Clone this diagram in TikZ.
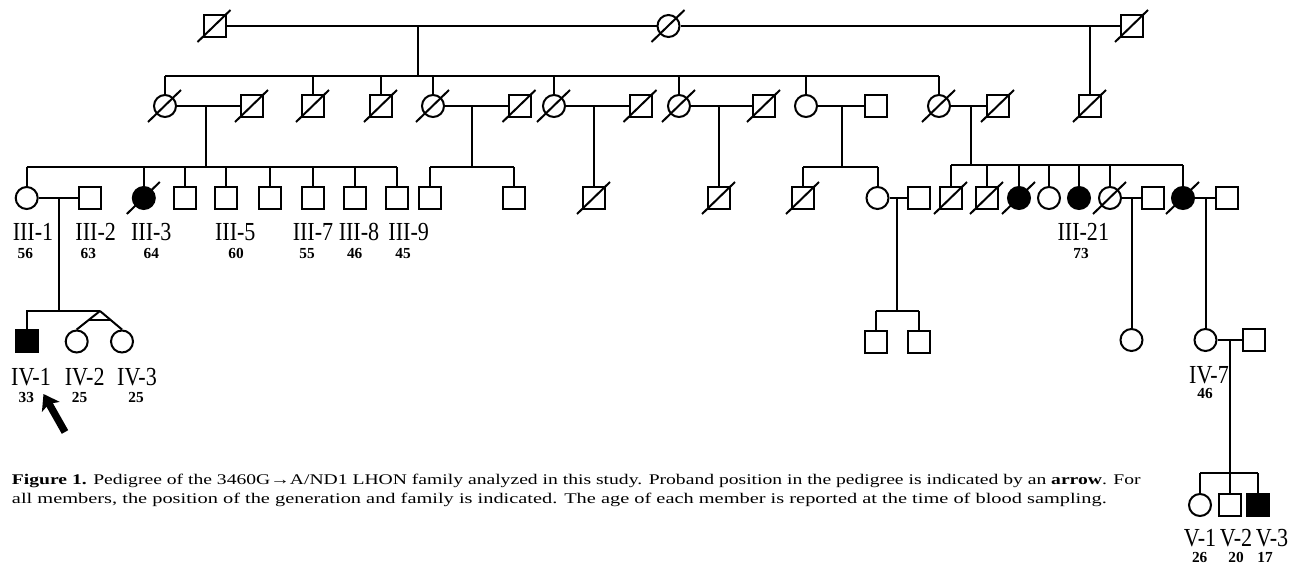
\documentclass[tikz,border=0pt]{standalone}
\usepackage{fontspec}
\setmainfont{Liberation Serif}
\usepackage{graphicx}
\usetikzlibrary{arrows.meta,calc}
% slightly condensed individual identifiers
\newcommand\idlab[1]{\scalebox{0.85}[1]{#1}}
% slash through a deceased individual
\newcommand\deadmark[1]{\draw ([shift={(-17,16)}]#1.center) -- ([shift={(16,-16)}]#1.center);}
\begin{document}
\begin{tikzpicture}[x=0.75pt,y=-0.75pt,line width=1.5pt,
  sq/.style={draw,rectangle,minimum size=16.5pt,inner sep=0pt,fill=white},
  ci/.style={draw,circle,minimum size=16.5pt,inner sep=0pt,fill=white},
  aff/.style={fill=black},
  idtext/.style={font=\fontsize{19.5}{20}\selectfont,inner sep=0pt,anchor=base},
  agetext/.style={font=\fontsize{11.5}{12}\selectfont\bfseries,inner sep=0pt,anchor=base},
  captext/.style={inner sep=0pt,anchor=base west}]
\useasboundingbox (0,0) rectangle (1303,565);

% ---------- generation I ----------
\node[sq] (i1) at (214.5,26) {};
\node[ci] (i2) at (668.5,26) {};
\node[sq] (i3) at (1132,26) {};
\draw (i1) -- (i2);
\draw (i2) -- (i3);
\coordinate (m12) at (418,26);
\coordinate (s2) at (418,76);
\coordinate (m23) at (1090,26);
\draw (m12) -- (s2);

% ---------- generation II ----------
\node[ci] (a1) at (165,106) {};
\node[sq] (a2) at (252,106) {};
\node[sq] (b)  at (313,106) {};
\node[sq] (c)  at (381,106) {};
\node[ci] (d1) at (433,106) {};
\node[sq] (d2) at (519.5,106) {};
\node[ci] (e1) at (554,106) {};
\node[sq] (e2) at (640.5,106) {};
\node[ci] (f1) at (679,106) {};
\node[sq] (f2) at (764,106) {};
\node[ci] (g1) at (806,106) {};
\node[sq] (g2) at (876,106) {};
\node[ci] (h1) at (939,106) {};
\node[sq] (h2) at (998,106) {};
\node[sq] (k)  at (1090,106) {};
\draw (m23) -- (k);
\draw (a1.north |- s2) -- (h1.north |- s2);
\foreach \n in {a1,b,c,d1,e1,f1,g1,h1} {\draw (\n.north) -- (\n.north |- s2);}
\foreach \p/\q in {a1/a2,d1/d2,e1/e2,f1/f2,g1/g2,h1/h2} {\draw (\p) -- (\q);}
\coordinate (ma) at (206,106);   \coordinate (sa) at (206,167);
\coordinate (md) at (472,106);   \coordinate (sd) at (472,167);
\coordinate (me) at (594,106);
\coordinate (mf) at (719,106);
\coordinate (mg) at (841.5,106); \coordinate (sg) at (841.5,167);
\coordinate (mh) at (971,106);   \coordinate (sh) at (971,165);
\draw (ma) -- (sa);
\draw (md) -- (sd);
\draw (mg) -- (sg);
\draw (mh) -- (sh);

% ---------- generation III ----------
\node[ci] (iii1) at (26.7,198) {};
\node[sq] (iii2) at (90,198) {};
\node[ci,aff] (iii3) at (143.8,198) {};
\node[sq] (iii4) at (185,198) {};
\node[sq] (iii5) at (226,198) {};
\node[sq] (iii6) at (270,198) {};
\node[sq] (iii7) at (312.5,198) {};
\node[sq] (iii8) at (354.5,198) {};
\node[sq] (iii9) at (397,198) {};
\draw (iii1.north |- sa) -- (iii9.north |- sa);
\foreach \n in {iii1,iii3,iii4,iii5,iii6,iii7,iii8,iii9} {\draw (\n.north) -- (\n.north |- sa);}
\draw (iii1) -- (iii2);
\coordinate (m31) at (59,198); \coordinate (s41) at (59,311);
\draw (m31) -- (s41);

\node[sq] (d3) at (430,198) {};
\node[sq] (d4) at (513.5,198) {};
\draw (d3.north |- sd) -- (d4.north |- sd);
\foreach \n in {d3,d4} {\draw (\n.north) -- (\n.north |- sd);}

\node[sq] (e3) at (594,198) {};
\draw (me) -- (e3);
\node[sq] (f3) at (719,198) {};
\draw (mf) -- (f3);

\node[sq] (g3) at (803,198) {};
\node[ci] (g4) at (877.5,198) {};
\node[sq] (g5) at (918.5,198) {};
\draw (g3.north |- sg) -- (g4.north |- sg);
\foreach \n in {g3,g4} {\draw (\n.north) -- (\n.north |- sg);}
\draw (g4) -- (g5);
\coordinate (m3g) at (897,198); \coordinate (s4g) at (897,311);
\draw (m3g) -- (s4g);

\node[sq] (h3) at (951,198) {};
\node[sq] (h4) at (987,198) {};
\node[ci,aff] (h5) at (1019,198) {};
\node[ci] (h6) at (1049,198) {};
\node[ci,aff] (h7) at (1079,198) {};
\node[ci] (h8) at (1110,198) {};
\node[sq] (h8s) at (1153,198) {};
\node[ci,aff] (h9) at (1183,198) {};
\node[sq] (h9s) at (1226.5,198) {};
\draw (h3.north |- sh) -- (h9.north |- sh);
\foreach \n in {h3,h4,h5,h6,h7,h8,h9} {\draw (\n.north) -- (\n.north |- sh);}
\draw (h8) -- (h8s);
\draw (h9) -- (h9s);
\coordinate (m3h8) at (1131.5,198);
\coordinate (m3h9) at (1205.5,198);

% ---------- generation IV ----------
\node[sq,aff] (iv1) at (26.7,341) {};
\node[ci] (iv2) at (76.7,341.5) {};
\node[ci] (iv3) at (122,341.5) {};
\coordinate (tw) at (100,311);
\draw (iv1.north) -- (iv1.north |- s41) -- (tw);
\draw (tw) -- (iv2.north);
\draw (tw) -- (iv3.north);
\draw ($(tw)!0.49!(iv2.north)$) -- ($(tw)!0.49!(iv3.north)$);

\node[sq] (g6) at (875.5,342) {};
\node[sq] (g7) at (919,342) {};
\draw (g6.north |- s4g) -- (g7.north |- s4g);
\foreach \n in {g6,g7} {\draw (\n.north) -- (\n.north |- s4g);}

\node[ci] (ivh) at (1131.5,340) {};
\draw (m3h8) -- (ivh);
\node[ci] (iv7) at (1205.5,340) {};
\node[sq] (iv7s) at (1254,340) {};
\draw (m3h9) -- (iv7);
\draw (iv7) -- (iv7s);
\coordinate (m47) at (1230,340); \coordinate (s5) at (1230,473);

% ---------- generation V ----------
\node[ci] (v1) at (1200,505) {};
\node[sq] (v2) at (1230,505) {};
\node[sq,aff] (v3) at (1258.3,505) {};
\draw (m47) -- (v2);
\draw (v1.north |- s5) -- (v3.north |- s5);
\foreach \n in {v1,v3} {\draw (\n.north) -- (\n.north |- s5);}

% ---------- deceased ----------
\foreach \n in {i1,i2,i3,a1,a2,b,c,d1,d2,e1,e2,f1,f2,h1,h2,k,iii3,e3,f3,g3,h3,h4,h5,h8,h9} {\deadmark{\n}}

% ---------- identifiers and ages ----------
\node[idtext] (l-iii1) at (33,240) {\idlab{III-1}};
\node[idtext] (l-iii2) at (95.7,240) {\idlab{III-2}};
\node[idtext] (l-iii3) at (151.3,240) {\idlab{III-3}};
\node[idtext] (l-iii5) at (235.3,240) {\idlab{III-5}};
\node[idtext] (l-iii7) at (313,240) {\idlab{III-7}};
\node[idtext] (l-iii8) at (359,240) {\idlab{III-8}};
\node[idtext] (l-iii9) at (408.7,240) {\idlab{III-9}};
\node[idtext] (l-iii21) at (1083.3,240) {\idlab{III-21}};
\node[agetext] (a-iii1) at (25.3,258.5) {56};
\node[agetext] (a-iii2) at (88.3,258.5) {63};
\node[agetext] (a-iii3) at (151.3,258.5) {64};
\node[agetext] (a-iii5) at (236,258.5) {60};
\node[agetext] (a-iii7) at (307,258.5) {55};
\node[agetext] (a-iii8) at (354.7,258.5) {46};
\node[agetext] (a-iii9) at (403,258.5) {45};
\node[agetext] (a-iii21) at (1081,258.5) {73};

\node[idtext] (l-iv1) at (31,385) {\idlab{IV-1}};
\node[idtext] (l-iv2) at (84.7,385) {\idlab{IV-2}};
\node[idtext] (l-iv3) at (137,385) {\idlab{IV-3}};
\node[agetext] (a-iv1) at (26.3,402) {33};
\node[agetext] (a-iv2) at (79.5,402) {25};
\node[agetext] (a-iv3) at (136,402) {25};
\node[idtext] (l-iv7) at (1209,383) {\idlab{IV-7}};
\node[agetext] (a-iv7) at (1205,398.5) {46};

\node[idtext] (l-v1) at (1200,546.5) {\idlab{V-1}};
\node[idtext] (l-v2) at (1236,546.5) {\idlab{V-2}};
\node[idtext] (l-v3) at (1272,546.5) {\idlab{V-3}};
\node[agetext] (a-v1) at (1199.7,562.5) {26};
\node[agetext] (a-v2) at (1236,562.5) {20};
\node[agetext] (a-v3) at (1265,562.5) {17};

% ---------- proband arrow ----------
\coordinate (ptail) at (65,432);
\coordinate (ptip) at (43.5,394);
\draw[line width=5.5pt,-{Stealth[length=11pt,width=15pt,inset=2.5pt]}] (ptail) -- (ptip);

% ---------- caption ----------
\node[captext] (cap1) at (11,484.3) {\resizebox{846.5pt}{7.8pt}{\textbf{Figure 1.} Pedigree of the 3460G→A/ND1 LHON family analyzed in this study. Proband position in the pedigree is indicated by an \textbf{arrow}. For}};
\node[captext] (cap2) at (11,503.3) {\resizebox{821pt}{7.8pt}{all members, the position of the generation and family is indicated. The age of each member is reported at the time of blood sampling.}};
\end{tikzpicture}
\end{document}
